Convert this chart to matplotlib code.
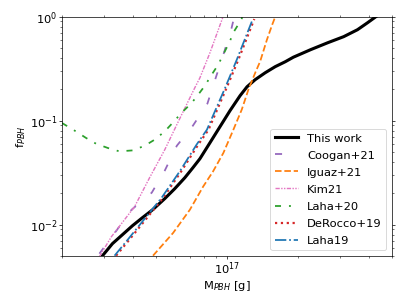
import matplotlib
matplotlib.use("Agg")
import matplotlib.pyplot as plt
import numpy as np

plt.rcParams['font.size'] = 13

# masses in units of 1e16 g, fractions f_PBH
this_m = [2.97, 3.27, 3.61, 3.98, 4.39, 4.84, 5.45, 6.01, 6.63, 7.17, 7.68, 8.47,
          9.34, 10.3, 11.36, 12.16, 13.16, 14.51, 16.01, 17.65, 19.1, 22.6, 26.7,
          31.2, 35.7, 39.4, 42.7]
this_f = [0.00503, 0.00656, 0.00802, 0.00978, 0.0117, 0.0139, 0.0178, 0.0222, 0.0283,
          0.0353, 0.0431, 0.0614, 0.0876, 0.125, 0.174, 0.212, 0.248, 0.289, 0.331,
          0.369, 0.408, 0.482, 0.562, 0.643, 0.750, 0.876, 1.0]

coogan_m = [2.88, 3.40, 3.94, 4.80, 5.45, 6.13, 7.17, 8.26, 9.02, 9.71, 10.45, 10.71]
coogan_f = [0.00526, 0.00875, 0.0139, 0.0203, 0.0331, 0.0574, 0.0895, 0.146, 0.271,
            0.451, 0.775, 0.978]

iguaz_m = [4.86, 5.91, 6.96, 7.93, 8.72, 9.65, 10.64, 11.55, 12.32, 13.16, 13.82,
           14.76, 15.54, 16.01]
iguaz_f = [0.00503, 0.00832, 0.0139, 0.0233, 0.0324, 0.0489, 0.0819, 0.128, 0.199,
           0.288, 0.372, 0.601, 0.838, 1.0]

kim_m = [2.88, 3.24, 4.06, 4.70, 5.45, 6.31, 7.31, 7.68, 8.47, 9.62]
kim_f = [0.00492, 0.00767, 0.0149, 0.0283, 0.0526, 0.105, 0.208, 0.259, 0.451, 1.0]

laha20_m = [2.0, 2.29, 2.53, 2.79, 3.13, 3.50, 3.99, 4.48, 4.94, 5.45, 5.91, 6.42,
            7.08, 7.55, 8.06, 8.61, 9.18, 9.71, 10.23, 10.71, 11.44, 11.64]
laha20_f = [0.095, 0.0789, 0.0682, 0.0600, 0.0546, 0.0507, 0.0518, 0.0574, 0.0657,
            0.0789, 0.0963, 0.119, 0.148, 0.178, 0.217, 0.277, 0.346, 0.448, 0.566,
            0.722, 0.921, 1.0]

derocco_m = [3.39, 3.86, 4.55, 5.37, 6.40, 7.55, 8.35, 9.95, 11.17, 12.93, 13.05]
derocco_f = [0.00503, 0.00718, 0.0114, 0.0182, 0.0326, 0.0588, 0.0819, 0.206, 0.386,
             0.90, 0.95]

laha19_m = [3.34, 3.80, 4.48, 5.29, 6.31, 7.43, 8.22, 9.81, 11.0, 12.74, 12.85]
laha19_f = [0.00503, 0.00718, 0.0114, 0.0182, 0.0326, 0.0588, 0.0819, 0.206, 0.386,
            0.90, 0.95]

fig = plt.figure(figsize=(6.4, 4.8))
ax = fig.add_axes([0.1523, 0.1607, 0.8108, 0.7836])

ax.plot(np.array(this_m)*1e16, this_f, color='k', lw=3.5, label='This work')
ax.plot(np.array(coogan_m)*1e16, coogan_f, color='tab:purple', lw=2,
        ls=(0, (4, 11)), label='Coogan+21')
ax.plot(np.array(iguaz_m)*1e16, iguaz_f, color='tab:orange', lw=2, ls='--',
        label='Iguaz+21')
ax.plot(np.array(kim_m)*1e16, kim_f, color='tab:pink', lw=1.6,
        ls=(0, (3, 1, 1, 1, 1, 1)), label='Kim21')
ax.plot(np.array(laha20_m)*1e16, laha20_f, color='tab:green', lw=2,
        ls=(0, (3.4, 4.5, 1.1, 4.5)), label='Laha+20')
ax.plot(np.array(derocco_m)*1e16, derocco_f, color='tab:red', lw=2.5, ls=':',
        label='DeRocco+19')
ax.plot(np.array(laha19_m)*1e16, laha19_f, color='tab:blue', lw=2, ls='-.',
        label='Laha19')

ax.set_xscale('log')
ax.set_yscale('log')
ax.set_xlim(2e16, 5e17)
ax.set_ylim(5e-3, 1)
ax.tick_params(which='both', top=True, right=True, pad=1.5)
ax.set_xlabel('M$_{PBH}$ [g]', labelpad=1.5)
ax.set_ylabel('f$_{PBH}$', labelpad=2.5)
ax.legend(loc='lower right', labelspacing=0.61)

fig.savefig('out.png', dpi=63.6)
